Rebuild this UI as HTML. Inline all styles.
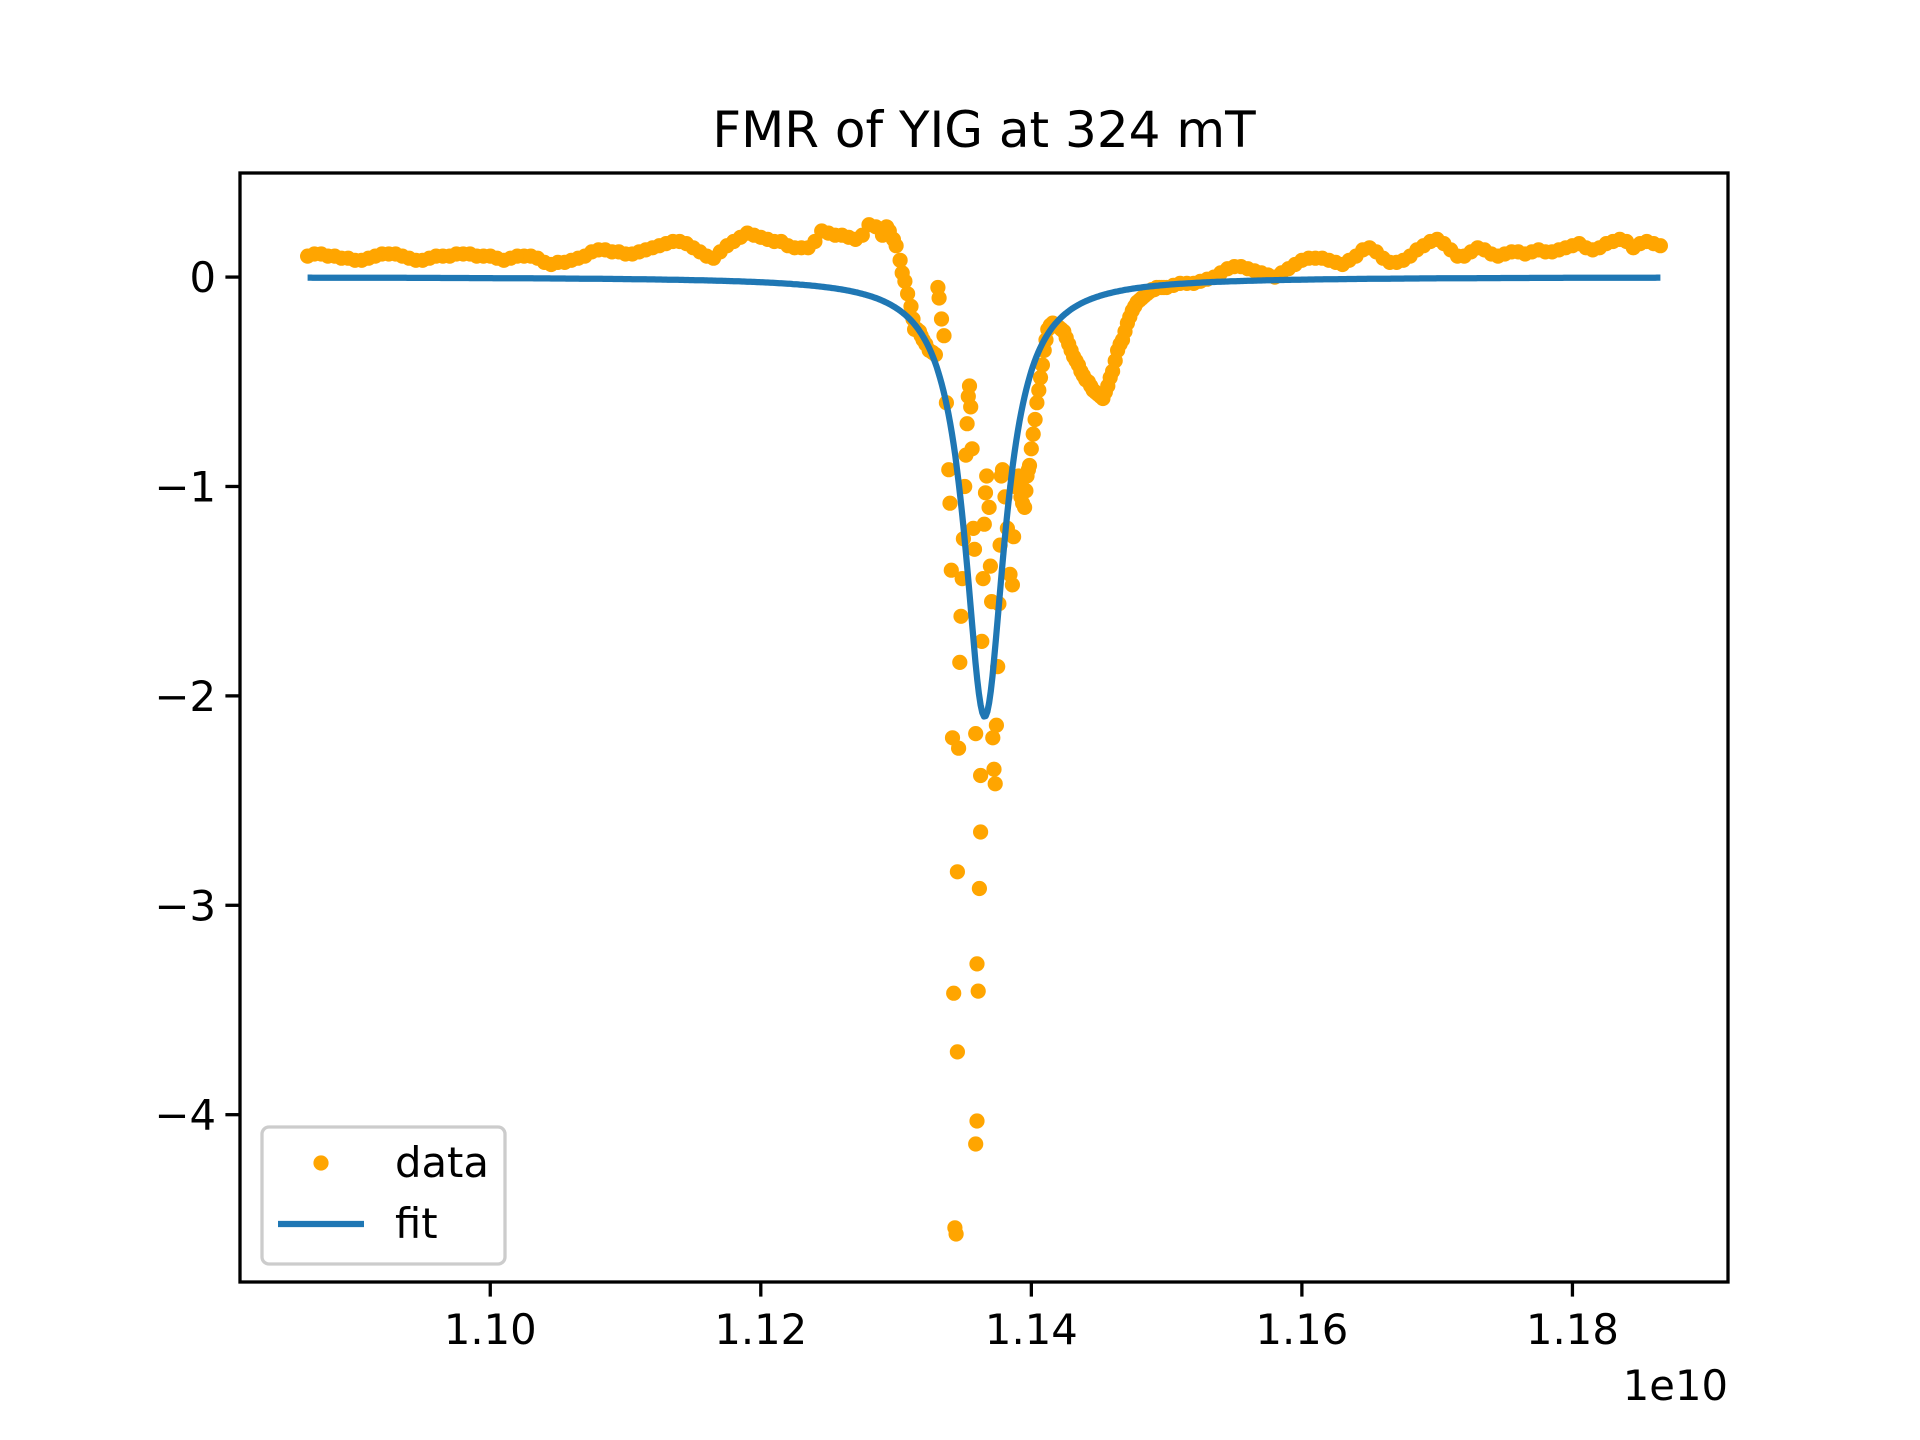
<!DOCTYPE html>
<html><head><meta charset="utf-8"><style>
body{margin:0;background:#fff}
svg{display:block;font-family:"DejaVu Sans","Liberation Sans",sans-serif}
</style></head><body>
<svg id="chart" width="1920" height="1440" viewBox="0 0 1920 1440">
<rect width="1920" height="1440" fill="#fff"/>
<text x="984" y="147" font-size="50" text-anchor="middle" fill="#000">FMR of YIG at 324 mT</text>
<g id="plot"></g>
</svg>
<script>
const xTicks=[1.10,1.12,1.14,1.16,1.18];
const xTickLabels=["1.10","1.12","1.14","1.16","1.18"];
const yTicks=[0,-1,-2,-3,-4];
const yTickLabels=["0","\u22121","\u22122","\u22123","\u22124"];
const leftStart=1.0865;
const leftBase=[.10,.11,.11,.10,.10,.09,.09,.08,
.08,.09,.10,.11,.11,.11,.10,.09,.08,.08,
.09,.10,.10,.10,.11,.11,.11,.10,.10,.10,
.09,.08,.09,.10,.10,.10,.09,.07,.06,.07,
.07,.08,.09,.10,.12,.13,.13,.12,.12,.11,
.11,.12,.13,.14,.15,.16,.17,.17,.16,.14,
.12,.10,.09,.12,.15,.17,.19,.21,.20,.19,
.18,.17,.17,.15,.14,.14,.14,.17,.22,.21,
.20,.20,.19,.18,.20,.25,.24,.20];
const rightStart=1.1500;
const rightBase=[-.05,-.04,-.03,-.03,-.03,-.02,-.01,.0,.02,.04,
.05,.05,.04,.03,.02,.01,.00,.02,.04,.06,
.08,.09,.09,.09,.08,.07,.06,.08,.10,.13,
.14,.12,.09,.07,.07,.08,.10,.13,.15,.17,
.18,.16,.13,.10,.10,.12,.14,.13,.11,.10,
.11,.12,.12,.11,.12,.13,.12,.12,.13,.14,
.15,.16,.14,.13,.14,.16,.17,.18,.17,.14,
.16,.17,.16,.15];
const dipX=[1.1293,1.1295,1.1298,1.1300,1.1303,1.13045,1.13065,1.13085,1.13110,1.13125,1.13137,1.13155,1.13173,1.13185,1.13200,1.13220,1.13245,1.13270,1.13291,1.13309,1.13318,1.13336,1.13354,1.13372,1.13390,1.13399,1.13408,1.13417,1.13426,1.13435,1.13444,1.13453,1.13453,1.13462,1.13471,1.13480,1.13489,1.13498,1.13507,1.13516,1.13525,1.13534,1.13543,1.13552,1.13562,1.13571,1.13580,1.13589,1.13598,1.13607,1.13598,1.13589,1.13616,1.13625,1.13625,1.13634,1.13643,1.13652,1.13661,1.13670,1.13688,1.13697,1.13706,1.13715,1.13724,1.13733,1.13742,1.13751,1.13760,1.13769,1.13778,1.13787,1.13805,1.13823,1.13842,1.13860,1.13869,1.13878,1.13890,1.13905,1.13915,1.13923,1.13935,1.13950,1.13960,1.13968,1.13978,1.13986,1.14000,1.14014,1.14028,1.14041,1.14055,1.14068,1.14082,1.14095,1.14108,1.14122,1.14140,1.14158,1.14180,1.14204,1.14222,1.14240,1.14258,1.14276,1.14294,1.14312,1.14330,1.14348,1.14366,1.14384,1.14402,1.14421,1.14439,1.14457,1.14475,1.14493,1.14511,1.14529,1.14547,1.14565,1.14583,1.14601,1.14620,1.14638,1.14656,1.14674,1.14692,1.14710,1.14728,1.14746,1.14764,1.14782,1.14800,1.14818,1.14836,1.14855,1.14873,1.14891,1.14909,1.14927,1.14945,1.14963,1.14980];
const dipY=[.24,.22,.18,.15,.08,.02,-.02,-.08,-.14,-.20,-.25,-.25,-.26,-.28,-.30,-.32,-.35,-.36,-.37,-.05,-.10,-.20,-.28,-.60,-.92,-1.08,-1.40,-2.20,-3.42,-4.54,-4.57,-3.70,-2.84,-2.25,-1.84,-1.62,-1.44,-1.25,-1.00,-.85,-.70,-.57,-.52,-.62,-.82,-1.20,-1.30,-2.18,-3.28,-3.41,-4.03,-4.14,-2.92,-2.38,-2.65,-1.74,-1.44,-1.18,-1.03,-.95,-1.10,-1.38,-1.55,-2.20,-2.35,-2.42,-2.14,-1.86,-1.56,-1.28,-.95,-.92,-1.05,-1.20,-1.42,-1.47,-1.24,-1.00,-.97,-.95,-1.00,-1.05,-1.08,-1.10,-1.02,-.95,-.92,-.90,-.82,-.75,-.68,-.60,-.54,-.48,-.42,-.35,-.30,-.25,-.23,-.22,-.23,-.24,-.25,-.26,-.29,-.32,-.35,-.38,-.40,-.42,-.45,-.47,-.49,-.50,-.52,-.54,-.55,-.56,-.57,-.58,-.55,-.52,-.48,-.45,-.40,-.35,-.32,-.30,-.26,-.22,-.19,-.16,-.14,-.12,-.11,-.10,-.09,-.08,-.07,-.06,-.06,-.05,-.05,-.05,-.05];
const fitParams=[1.13655,0.0018,2.1]; // center, half-width, depth
const fitRange=[1.0865,1.1865];

const NS="http://www.w3.org/2000/svg";
const L=240,R=1728,T=173,B=1282;
const xMin=1.0815,xMax=1.1915,yMin=-4.799,yMax=0.497;
const sx=v=>L+(v-xMin)/(xMax-xMin)*(R-L);
const sy=v=>T+(yMax-v)/(yMax-yMin)*(B-T);
const g=document.getElementById('plot');
function mk(tag,attrs){const e=document.createElementNS(NS,tag);for(const k in attrs)e.setAttribute(k,attrs[k]);return e;}

const pts=[];
leftBase.forEach((v,i)=>pts.push([leftStart+i*0.0005,v]));
dipX.forEach((v,i)=>pts.push([v,dipY[i]]));
rightBase.forEach((v,i)=>pts.push([rightStart+i*0.0005,v]));
const dg=mk('g',{});


g.appendChild(dg);
pts.forEach(p=>{const c=mk('circle',{cx:sx(p[0]).toFixed(1),cy:sy(p[1]).toFixed(1),r:7.6,fill:'#ffa500'});


dg.appendChild(c);});

let d="";
const N=800;
for(let i=0;i<=N;i++){const f=fitRange[0]+(fitRange[1]-fitRange[0])*i/N;const u=(f-fitParams[0])/fitParams[1];const y=-fitParams[2]/(1+u*u);d+=(i?"L":"M")+sx(f).toFixed(1)+","+sy(y).toFixed(1);}
const fl=mk('path',{d:d,fill:'none',stroke:'#1f77b4','stroke-width':6.25,'stroke-linejoin':'round'});


g.appendChild(fl);

const fr=mk('rect',{x:L,y:T,width:R-L,height:B-T,fill:'none',stroke:'#000','stroke-width':3.3});


g.appendChild(fr);

xTicks.forEach((v,i)=>{const x=sx(v);
const t=mk('line',{x1:x,x2:x,y1:B,y2:B+14.6,stroke:'#000','stroke-width':3.3});


g.appendChild(t);
const tx=mk('text',{x:x,y:B+62,'font-size':41.7,'text-anchor':'middle',fill:'#000'});
tx.textContent=xTickLabels[i];


g.appendChild(tx);});
yTicks.forEach((v,i)=>{const y=sy(v);
const t=mk('line',{x1:L-14.6,x2:L,y1:y,y2:y,stroke:'#000','stroke-width':3.3});


g.appendChild(t);
const tx=mk('text',{x:L-24,y:y+15,'font-size':41.7,'text-anchor':'end',fill:'#000'});
tx.textContent=yTickLabels[i];


g.appendChild(tx);});
const off=mk('text',{x:R,y:1400,'font-size':41.7,'text-anchor':'end',fill:'#000'});
off.textContent="1e10";


g.appendChild(off);

const lg=mk('g',{});


g.appendChild(lg);
const lb=mk('rect',{x:262,y:1127,width:243,height:137,rx:7,fill:'#fff','fill-opacity':0.8,stroke:'#ccc','stroke-width':3.3});


lg.appendChild(lb);
const lm=mk('circle',{cx:321,cy:1163,r:7.6,fill:'#ffa500'});


lg.appendChild(lm);
const lt1=mk('text',{x:395,y:1177,'font-size':41.7,fill:'#000'});lt1.textContent="data";


lg.appendChild(lt1);
const ll=mk('line',{x1:278,x2:364,y1:1224,y2:1224,stroke:'#1f77b4','stroke-width':6.25});


lg.appendChild(ll);
const lt2=mk('text',{x:395,y:1238,'font-size':41.7,fill:'#000'});lt2.textContent="fit";


lg.appendChild(lt2);
</script>
</body></html>
